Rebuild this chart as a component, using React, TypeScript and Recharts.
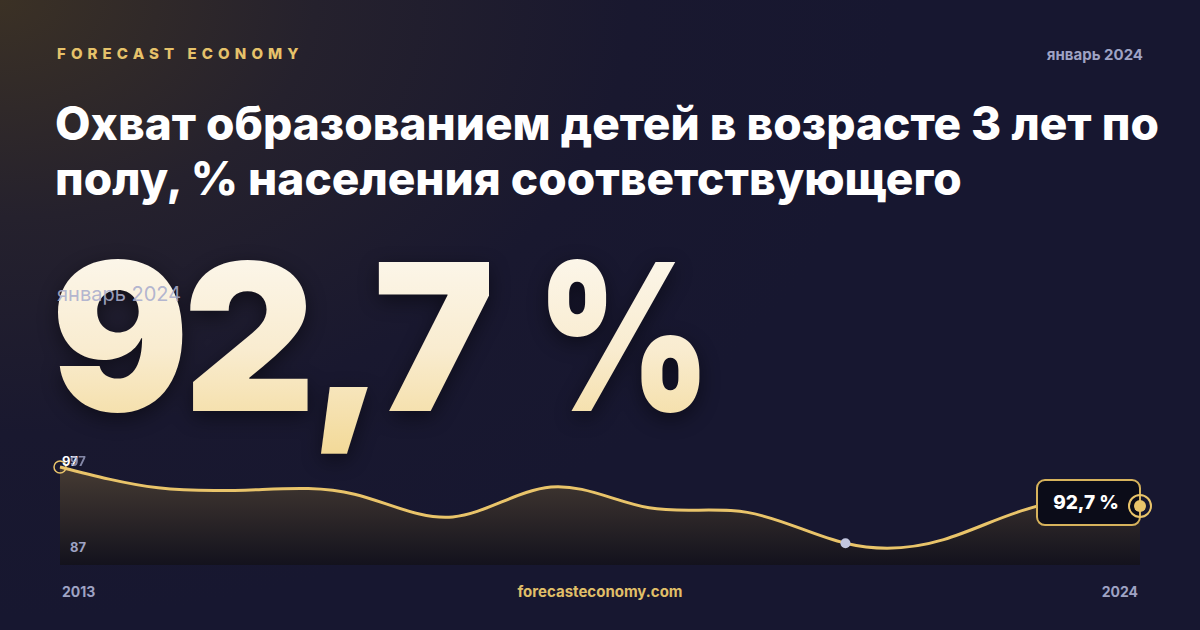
import { AreaChart, Area, XAxis, YAxis } from 'recharts'

// значения (охват, %)
const years = ['2013', '2014', '2015', '2016', '2017', '2018', '2019', '2020', '2021', '2022', '2023', '2024']
const coverage = [97.0, 94.7, 94.5, 94.0, 91.5, 94.8, 92.5, 92.0, 88.6, 89.0, 92.8, 92.7]
const axisTop = '97'
const axisBottom = '87'
const highlightIndex = 8

const data = years.map((y, i) => ({ year: y, value: coverage[i] }))

const GOLD = '#e9c46a'
const MUTED = '#9fa3c4'
const FONT = 'Inter, "Noto Sans", sans-serif'

const num = (v: number) => v.toFixed(1).replace('.', ',')
const fmt = (v: number) => num(v) + ' %'

const bigText: React.CSSProperties = {
  display: 'inline-block',
  background: 'linear-gradient(180deg, #fdfbf6 0%, #f9ecd0 55%, #f2d894 100%)',
  WebkitBackgroundClip: 'text', backgroundClip: 'text', color: 'transparent',
}

// eslint-disable-next-line @typescript-eslint/no-explicit-any
function Marker(props: any) {
  const { cx, cy, index } = props
  if (index === 0) {
    return (
      <g key={index}>
        <circle cx={cx} cy={cy} r={6} fill="none" stroke={GOLD} strokeWidth={1.5} />
        <text x={cx + 2} y={cy - 1} fill="#ffffff" fontSize={13} fontWeight={700} fontFamily={FONT}>
          {Math.round(coverage[0])}
        </text>
      </g>
    )
  }
  if (index === highlightIndex) {
    return <circle key={index} cx={cx} cy={cy} r={5} fill="#c3c7df" />
  }
  if (index === coverage.length - 1) {
    return (
      <g key={index}>
        <rect x={cx - 103} y={cy - 26} width={103} height={45} rx={8} fill="#0b0c18" stroke="#d7b35c" strokeWidth={2} />
        <text x={cx - 54} y={cy + 3} textAnchor="middle" fill="#ffffff" fontSize={19} fontWeight={800} fontFamily={FONT}>
          {fmt(coverage[index])}
        </text>
        <circle cx={cx} cy={cy} r={11} fill="none" stroke={GOLD} strokeWidth={2} />
        <circle cx={cx} cy={cy} r={6} fill={GOLD} />
      </g>
    )
  }
  return <g key={index} />
}

export default function App() {
  const last = coverage[coverage.length - 1]
  return (
    <div
      style={{
        position: 'absolute', left: 0, top: 0, width: 1200, height: 630, overflow: 'hidden',
        fontFamily: FONT,
        background: 'radial-gradient(ellipse 900px 620px at 0% 0%, #3b3125 0%, #25212d 35%, #19182f 70%, #171730 100%)',
      }}
    >
      <div style={{ position: 'absolute', left: 57, top: 44, color: '#e6c26a', fontSize: 15, fontWeight: 800, letterSpacing: 5.1 }}>
        FORECAST ECONOMY
      </div>
      <div style={{ position: 'absolute', right: 57, top: 45, color: MUTED, fontSize: 15, fontWeight: 700 }}>
        январь 2024
      </div>

      <div style={{ position: 'absolute', left: 55, top: 96, width: 1140, color: '#ffffff', fontSize: 46, fontWeight: 800, lineHeight: '55px', letterSpacing: 0 }}>
        Охват образованием детей в возрасте 3 лет по полу, % населения соответствующего
      </div>

      <div
        style={{
          position: 'absolute', left: 51, top: 211, fontSize: 205, fontWeight: 900, lineHeight: '250px', letterSpacing: -6,
          whiteSpace: 'nowrap', filter: 'drop-shadow(0 6px 10px rgba(0,0,0,0.45))',
        }}
      >
        <span style={bigText}>{num(last)}</span>
        <span style={{ ...bigText, marginLeft: 47, transform: 'scaleX(0.82)', transformOrigin: 'left center', letterSpacing: 0 }}>%</span>
      </div>
      <div style={{ position: 'absolute', left: 57, top: 282, color: 'rgba(170,174,205,0.9)', fontSize: 20, fontWeight: 400 }}>
        январь 2024
      </div>

      <div style={{ position: 'absolute', left: 40, top: 442 }}>
        <AreaChart width={1120} height={133} data={data} margin={{ top: 20, right: 20, bottom: 10, left: 20 }}>
          <defs>
            <linearGradient id="areaFill" x1="0" y1="0" x2="0" y2="1">
              <stop offset="0%" stopColor="#463b33" />
              <stop offset="100%" stopColor="#13121d" />
            </linearGradient>
          </defs>
          <XAxis dataKey="year" hide />
          <YAxis hide domain={[86.2, 97.55]} />
          <Area
            type="natural"
            dataKey="value"
            stroke={GOLD}
            strokeWidth={3}
            fill="url(#areaFill)"
            fillOpacity={1}
            dot={Marker}
            activeDot={false}
            isAnimationActive={false}
          />
        </AreaChart>
      </div>

      <div style={{ position: 'absolute', left: 70, top: 453, color: MUTED, fontSize: 13, fontWeight: 700, opacity: 0.8 }}>{axisTop}</div>
      <div style={{ position: 'absolute', left: 70, top: 539, color: MUTED, fontSize: 13, fontWeight: 700 }}>{axisBottom}</div>

      <div style={{ position: 'absolute', left: 62, top: 583, color: MUTED, fontSize: 14, fontWeight: 700 }}>{years[0]}</div>
      <div style={{ position: 'absolute', right: 62, top: 583, color: MUTED, fontSize: 14, fontWeight: 700 }}>{years[years.length - 1]}</div>
      <div style={{ position: 'absolute', left: 0, width: 1200, top: 582, textAlign: 'center', color: '#e0bf68', fontSize: 15, fontWeight: 700 }}>
        forecasteconomy.com
      </div>
    </div>
  )
}
